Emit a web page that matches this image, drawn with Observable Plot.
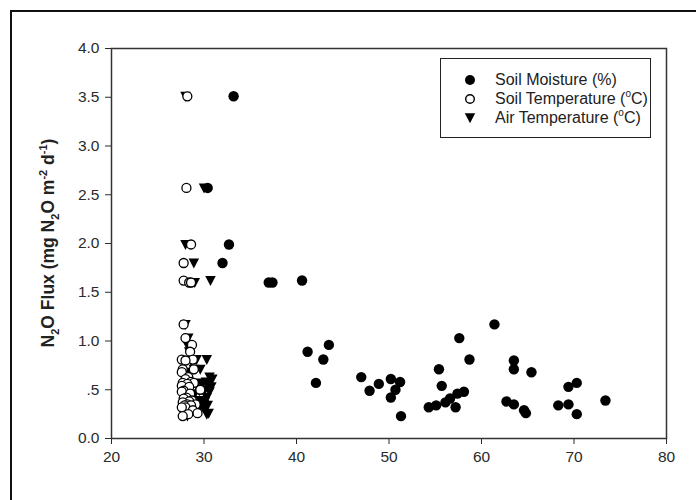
<!DOCTYPE html>
<html><head><meta charset="utf-8">
<script src="https://cdn.jsdelivr.net/npm/d3@7"></script>
<script src="https://cdn.jsdelivr.net/npm/@observablehq/plot@0.6"></script>
<style>
body{margin:0;background:#fff;}
#wrap{position:relative;width:696px;height:500px;overflow:hidden;font-family:"Liberation Sans",Arial,sans-serif;}
#outer{position:absolute;left:10px;top:10px;width:800px;height:600px;border:2px solid #111;box-sizing:border-box;}
#chart{position:absolute;left:0;top:0;}
#legend{position:absolute;left:440px;top:58px;width:211px;height:80px;border:1.5px solid #222;box-sizing:border-box;background:#fff;color:#222;font-size:16px;}
.row{position:absolute;left:0;height:19px;line-height:19px;white-space:nowrap;}
.row svg{position:absolute;left:22px;top:3px;}
.row span{position:absolute;left:54px;top:0;}
sup{font-size:10px;vertical-align:7px;line-height:0;}
</style>
</head><body>
<div id="wrap"><div id="outer"></div><div id="chart"></div>
<div id="legend">
 <div class="row" style="top:11px"><svg width="14" height="14"><circle cx="7" cy="7" r="5" fill="#000"/></svg><span>Soil Moisture (%)</span></div>
 <div class="row" style="top:30px"><svg width="14" height="14"><circle cx="7" cy="7" r="4.3" fill="#fff" stroke="#000" stroke-width="1.4"/></svg><span>Soil Temperature (<sup>o</sup>C)</span></div>
 <div class="row" style="top:49px"><svg width="14" height="14"><path d="M1.8,2.3L12.2,2.3L7,12.3Z" fill="#000"/></svg><span>Air Temperature (<sup>o</sup>C)</span></div>
</div>
</div>
<script>
// N2O flux (mg N2O m-2 d-1) for each observation
const flux =      [3.51, 2.57, 1.99, 1.80, 1.62, 1.60, 1.60, 1.17, 1.03, 0.96, 0.89, 0.81, 0.81, 0.80, 0.71, 0.71, 0.68, 0.63, 0.61, 0.58, 0.57, 0.57, 0.56, 0.54, 0.53, 0.50, 0.49, 0.48, 0.46, 0.42, 0.41, 0.39, 0.38, 0.37, 0.35, 0.35, 0.34, 0.34, 0.32, 0.32, 0.29, 0.26, 0.25, 0.23];
// Soil moisture (%)
const moisture =  [33.2, 30.4, 32.7, 32.0, 40.6, 37.0, 37.4, 61.4, 57.6, 43.5, 41.2, 42.9, 58.7, 63.5, 63.5, 55.4, 65.4, 47.0, 50.2, 51.2, 42.1, 70.3, 48.9, 55.7, 69.4, 50.7, 47.9, 58.1, 57.4, 50.2, 56.6, 73.4, 62.7, 56.1, 63.5, 69.4, 68.3, 55.1, 54.3, 57.2, 64.6, 64.8, 70.3, 51.3];
// Soil temperature (°C)
const soilTemp =  [28.2, 28.1, 28.6, 27.8, 27.8, 28.4, 28.6, 27.8, 28.0, 28.7, 28.5, 28.8, 27.6, 28.0, 27.7, 28.9, 27.6, 28.3, 28.0, 28.6, 27.7, 28.9, 28.2, 27.6, 28.4, 29.6, 27.8, 27.6, 28.5, 28.1, 27.8, 28.7, 28.4, 27.7, 29.1, 28.2, 27.9, 28.6, 28.0, 27.6, 28.8, 29.3, 28.3, 27.7];
// Air temperature (°C)
const airTemp =   [28.0, 30.0, 28.0, 28.9, 30.7, 28.7, 29.0, 28.0, 28.3, 28.2, 28.4, 30.3, 29.2, 28.6, 29.6, 28.9, 28.3, 30.6, 30.9, 30.2, 29.3, 30.5, 29.8, 28.5, 30.8, 30.1, 29.5, 30.6, 29.0, 30.3, 28.7, 29.6, 30.1, 28.4, 30.0, 29.2, 30.4, 28.6, 29.9, 30.2, 29.4, 30.5, 30.3, 28.2];
const xTicks = [20, 30, 40, 50, 60, 70, 80];
const yTicks = [0, 0.5, 1, 1.5, 2, 2.5, 3, 3.5, 4];
const yTickLabels = ["0.0", ".5", "1.0", "1.5", "2.0", "2.5", "3.0", "3.5", "4.0"];

const rows = flux.map((f, i) => ({f, m: moisture[i], s: soilTemp[i], a: airTemp[i]}));
const triDown = {
  draw(ctx, size) {
    const r = Math.sqrt(size / Math.PI);
    ctx.moveTo(-r * 1.05, -r * 0.9);
    ctx.lineTo(r * 1.05, -r * 0.9);
    ctx.lineTo(0, r * 1.1);
    ctx.closePath();
  }
};

const plot = Plot.plot({
  width: 696, height: 500,
  marginLeft: 111, marginRight: 30, marginTop: 48, marginBottom: 62,
  style: {fontFamily: "'Liberation Sans', Arial, sans-serif", fontSize: "15.5px", color: "#2a2a2a", background: "transparent", overflow: "visible"},
  x: {domain: [20, 80], ticks: xTicks, label: null, tickSize: 6, tickPadding: 6},
  y: {domain: [0, 4], ticks: yTicks, tickFormat: d => yTickLabels[yTicks.indexOf(d)], label: null, tickSize: 6, tickPadding: 6},
  marks: [
    Plot.dot(rows, {x: "m", y: "f", r: 5.2, fill: "#000", symbol: "circle"}),
    Plot.dot(rows, {x: "a", y: "f", r: 5, fill: "#000", symbol: triDown}),
    Plot.dot(rows, {x: "s", y: "f", r: 4.5, fill: "#fff", stroke: "#000", strokeWidth: 1.3, symbol: "circle"}),
    Plot.frame({stroke: "#333", strokeWidth: 1.5})
  ]
});
document.getElementById("chart").appendChild(plot);

// y-axis title with sub/superscripts
const svg = d3.select(plot);
const t = svg.append("text")
  .attr("transform", "translate(54,243) rotate(-90)")
  .attr("text-anchor", "middle")
  .attr("font-weight", "bold")
  .attr("font-size", 17.5)
  .attr("fill", "#222");
const parts = [["N",0],["2",1],["O Flux (mg N",0],["2",1],["O m",0],["-2",-1],[" d",0],["-1",-1],[")",0]];
let prev = 0;
for (const [s, k] of parts) {
  const shift = k === 1 ? 5 : k === -1 ? -7 : 0;
  t.append("tspan").attr("dy", shift - prev).attr("font-size", k ? 11 : 17.5).text(s);
  prev = shift;
}
</script>
</body></html>
